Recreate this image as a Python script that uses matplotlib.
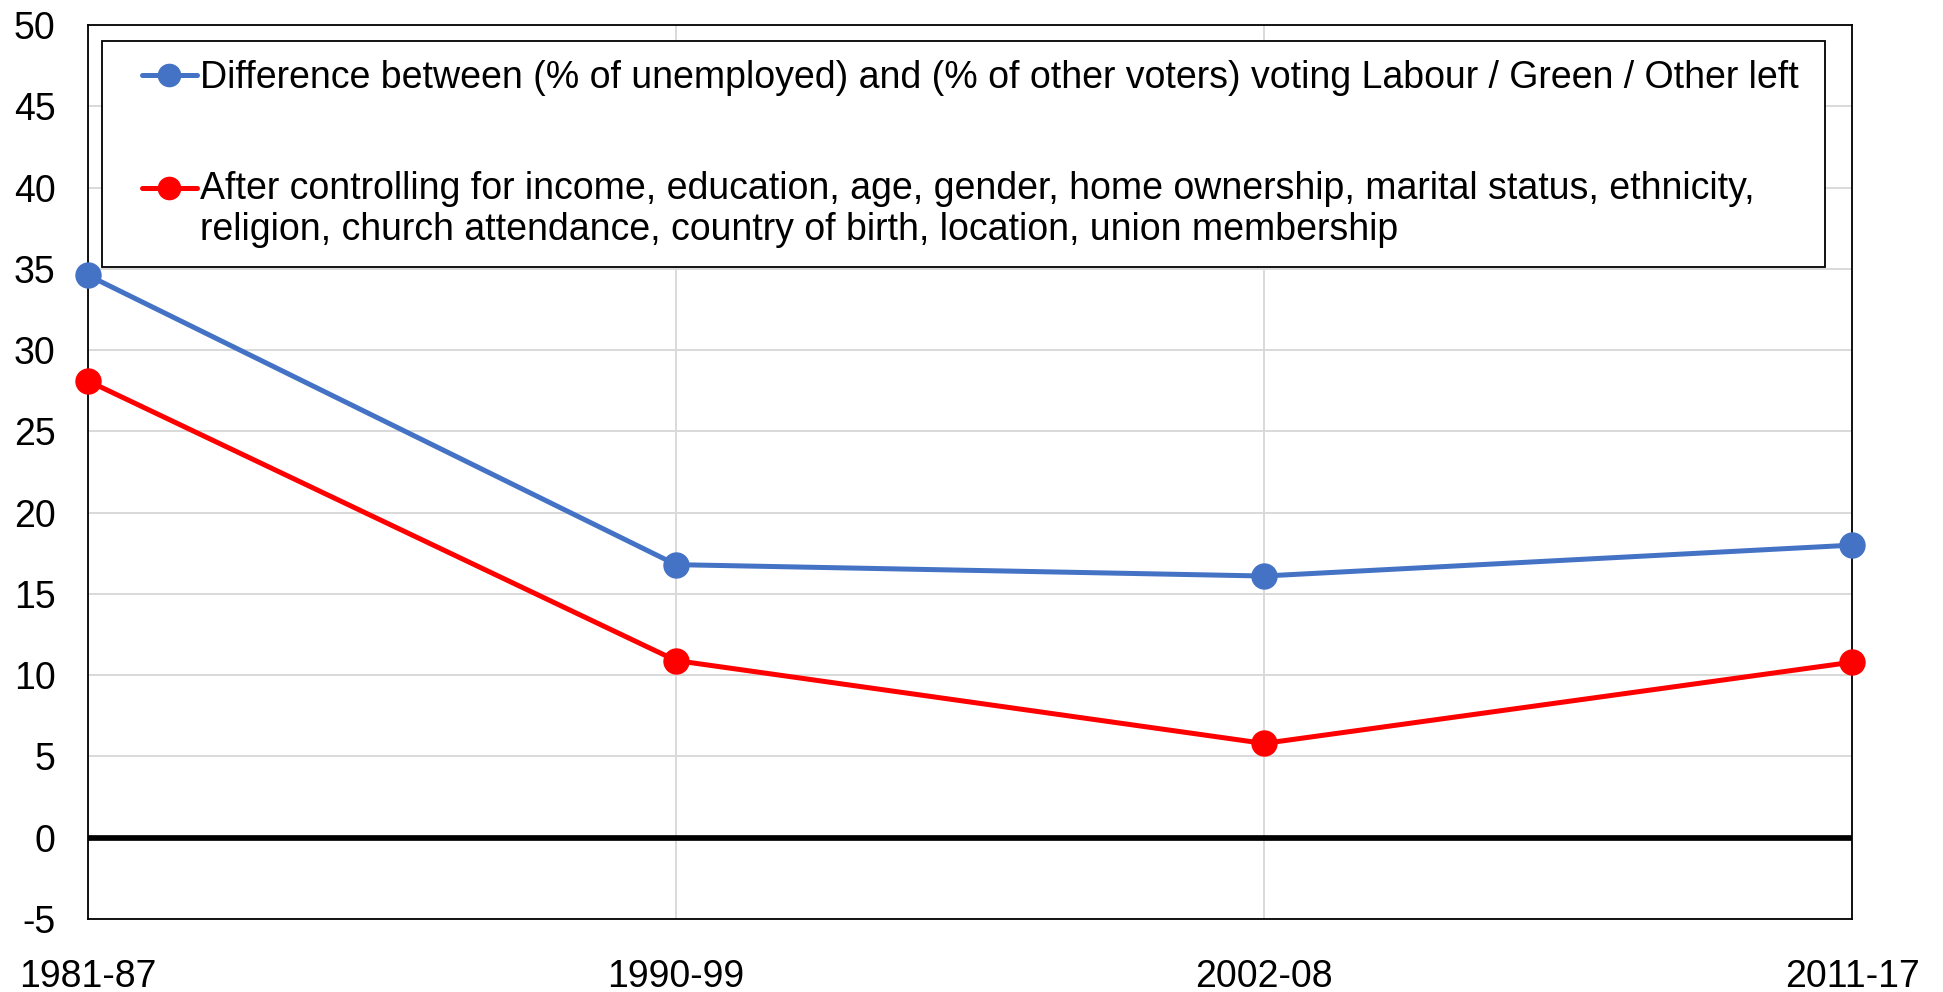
import matplotlib
matplotlib.use("Agg")
import matplotlib.pyplot as plt
import numpy as np
from matplotlib.legend_handler import HandlerBase
from matplotlib.lines import Line2D

periods = ["1981-87", "1990-99", "2002-08", "2011-17"]
raw_gap = [34.6, 16.8, 16.1, 18.0]
controlled_gap = [28.1, 10.9, 5.8, 10.8]
label_raw = "Difference between (% of unemployed) and (% of other voters) voting Labour / Green / Other left"
label_ctrl = ("After controlling for income, education, age, gender, home ownership, marital status, ethnicity,\n"
              "religion, church attendance, country of birth, location, union membership")

plt.rcParams["font.family"] = ["Liberation Sans", "DejaVu Sans"]
plt.rcParams["axes.unicode_minus"] = False


class ExcelHandle(HandlerBase):
    # short line + dot at the right end of the handle box, optionally lifted to the first text line
    def __init__(self, dy=0.0, seg=40.0, ms=16):
        super().__init__()
        self.dy = dy
        self.seg = seg
        self.ms = ms

    def create_artists(self, legend, orig_handle, xdescent, ydescent, width, height, fontsize, trans):
        y = (height - ydescent) / 2.0 + self.dy
        x1 = width - xdescent
        x0 = x1 - self.seg
        c = orig_handle.get_color()
        line = Line2D([x0, x1], [y, y], color=c, lw=orig_handle.get_linewidth(),
                      solid_capstyle="round", transform=trans)
        dot = Line2D([(x0 + x1) / 2], [y], color=c, marker="o", ms=self.ms, ls="none", transform=trans)
        return [line, dot]


fig = plt.figure(figsize=(19.43, 9.92), dpi=100)
ax = fig.add_axes([0.0453, 0.0736, 0.9079, 0.9012])

x = np.arange(len(periods))
l1, = ax.plot(x, raw_gap, color="#4472C4", lw=3.6, marker="o", ms=18, label=label_raw, zorder=3, clip_on=False)
l2, = ax.plot(x, controlled_gap, color="#FF0000", lw=3.6, marker="o", ms=18, label=label_ctrl, zorder=3, clip_on=False)
ax.axhline(0, color="black", lw=4.1, zorder=2)

ax.set_xlim(0, len(periods) - 1)
ax.set_ylim(-5, 50)
ax.set_yticks(np.arange(-5, 51, 5))
ax.set_xticks(x)
ax.set_xticklabels(periods)
ax.grid(True, color="#D9D9D9", lw=1.4, zorder=0)
ax.tick_params(axis="both", length=0, labelsize=27)
ax.tick_params(axis="y", pad=23.5)
ax.tick_params(axis="x", pad=28.5)
for s in ax.spines.values():
    s.set_linewidth(1.3)
    s.set_color("black")

leg = ax.legend(loc="upper left", bbox_to_anchor=(0.0079, 0.982, 0.977, 0.0), mode="expand",
                borderaxespad=0, fontsize=27, fancybox=False, edgecolor="black", framealpha=1,
                labelspacing=2.0, handlelength=2.04, handletextpad=0.08, borderpad=0.5,
                handler_map={l1: ExcelHandle(), l2: ExcelHandle(dy=16)})
leg.get_frame().set_linewidth(1.3)

fig.savefig("out.png", dpi=100, facecolor="white")
